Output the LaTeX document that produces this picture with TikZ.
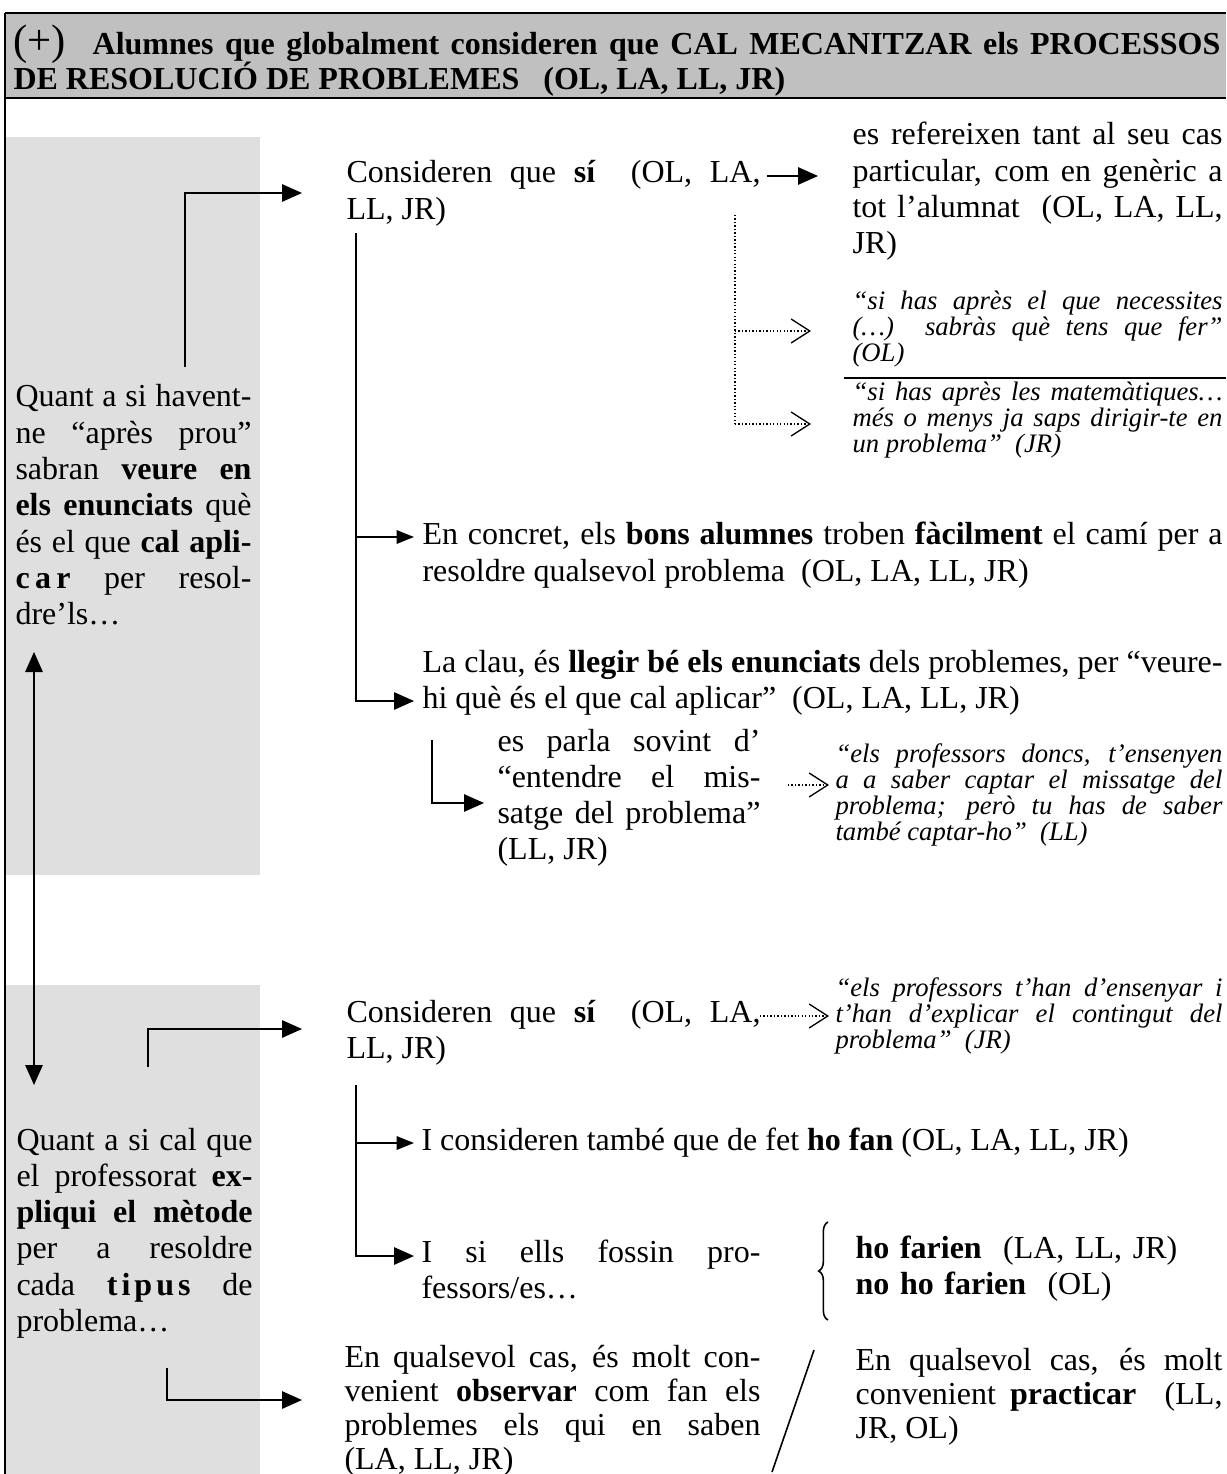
\documentclass[tikz,border=0pt]{standalone}
\usepackage{fontspec}
\setmainfont{Liberation Serif}
\usetikzlibrary{arrows.meta,decorations.pathreplacing}
\definecolor{headgray}{HTML}{C0C0C0}
\definecolor{panelgray}{HTML}{DFDFDF}
\begin{document}
\begin{tikzpicture}[x=0.375pt,y=-0.375pt,
  body/.style={font=\fontsize{12}{13.6}\selectfont, align=justify, inner sep=0pt, anchor=base west},
  bodyt/.style={font=\fontsize{12}{12.75}\selectfont, align=justify, inner sep=0pt, anchor=base west},
  quote/.style={font=\fontsize{10}{9.75}\selectfont\itshape, align=justify, inner sep=0pt, anchor=base west},
  conn/.style={line width=0.75pt},
  arr/.style={conn,-{Triangle[length=7.5pt,width=6.5pt]}},
  barr/.style={conn,-{Triangle[length=6.5pt,width=5pt]}},
  dotl/.style={line width=0.5pt, dash pattern=on 0.5pt off 0.8pt,
    -{Straight Barb[length=7pt,width=9pt,line width=0.5pt]}},
  dotv/.style={line width=0.5pt, dash pattern=on 0.5pt off 0.8pt},
]
\useasboundingbox (0,0) rectangle (1226,1474);

% header band and frame
\fill[headgray] (5,13) rectangle (1226,98);
\fill[panelgray] (5,137) rectangle (260,875);
\fill[panelgray] (5,985) rectangle (260,1474);
\draw[line width=0.75pt] (5,13) -- (1226,13);
\draw[line width=0.75pt] (5,98) -- (1226,98);
\draw[line width=0.9pt] (5,13) -- (5,1474);

\node[anchor=base west, inner sep=0pt] (hd1) at (13,55)
  {\makebox[452.6pt][s]{\fontsize{16}{16}\selectfont(+)\hspace{10pt}\fontsize{12}{14}\selectfont\bfseries Alumnes que globalment consideren que CAL MECANITZAR els PROCESSOS}};
\node[anchor=base west, inner sep=0pt, font=\fontsize{12}{14}\selectfont\bfseries] (hd2) at (13,90)
  {DE RESOLUCIÓ DE PROBLEMES\hspace{9pt}(OL, LA, LL, JR)};

% ---------- upper block ----------
\node[body, text width=88.5pt] (lp1) at (15,407)
  {Quant a si havent-\linebreak ne “après prou”\linebreak sabran \textbf{veure en}\linebreak \textbf{els enunciats} què\linebreak és el que \textbf{cal apli-}\linebreak \textbf{c\hspace{2pt}a\hspace{2pt}r} per resol-\linebreak dre’ls…};

\node[body, text width=155.25pt] (a1) at (346,183)
  {Consideren que \textbf{sí}\ \ (OL, LA,\linebreak LL, JR)};
\node[body, text width=138.75pt] (b1) at (852,145)
  {es refereixen tant al seu cas\linebreak particular, com en genèric a\linebreak tot l’alumnat\ \ (OL, LA, LL,\linebreak JR)};
\node[quote, text width=138.75pt] (q1) at (852,310)
  {“si has après el que necessites\linebreak (…)\ \ sabràs què tens que fer”\linebreak (OL)};
\node[quote, text width=138.75pt] (q2) at (852,401)
  {“si has après les matemàtiques…\linebreak més o menys ja saps dirigir-te en\linebreak un problema”\ \ (JR)};
\node[body, text width=300pt] (c1) at (422,545)
  {En concret, els \textbf{bons alumnes} troben \textbf{fàcilment} el camí per a\linebreak resoldre qualsevol problema\ \ (OL, LA, LL, JR)};
\node[body, text width=300pt] (c2) at (422,672)
  {La clau, és \textbf{llegir bé els enunciats} dels problemes, per “veure-\linebreak hi què és el que cal aplicar”\ \ (OL, LA, LL, JR)};
\node[body, text width=98.6pt] (d1) at (497,751)
  {es parla sovint d’\linebreak “entendre el mis-\linebreak satge del problema”\linebreak (LL, JR)};
\node[quote, text width=145.1pt] (q3) at (835,762)
  {“els professors doncs, t’ensenyen\linebreak a a saber captar el missatge del\linebreak problema; però tu has de saber\linebreak també captar-ho”\ \ (LL)};

% connectors of the upper block
\coordinate (u1) at (185,367);
\coordinate (u1t) at (302,193);
\draw[arr] (u1) |- (u1t);
\coordinate (ab1) at (767,176);
\coordinate (ab2) at (818,176);
\draw[arr] (ab1) -- (ab2);
\coordinate (dv) at (735,215);
\coordinate (dq1) at (811,331);
\coordinate (dq2) at (811,424);
\draw[dotv] (dv) -- (dv |- dq2);
\draw[dotl] (dv |- dq1) -- (dq1);
\draw[dotl] (dv |- dq2) -- (dq2);
\draw[line width=0.6pt] (844,378) -- (1226,378);
\coordinate (v1) at (356,233);
\coordinate (c1t) at (414,537);
\coordinate (c2t) at (414,701);
\draw[arr] (v1) |- (c2t);
\draw[barr] (v1 |- c1t) -- (c1t);
\coordinate (v2) at (432,740);
\coordinate (d1t) at (484,803);
\draw[arr] (v2) |- (d1t);
\coordinate (dq3s) at (788,785);
\coordinate (dq3t) at (829,785);
\draw[dotl] (dq3s) -- (dq3t);

% link between the two left panels
\coordinate (da1) at (34,652);
\coordinate (da2) at (34,1085);
\draw[conn,{Triangle[length=7.5pt,width=6.5pt]}-{Triangle[length=7.5pt,width=6.5pt]}] (da1) -- (da2);

% ---------- lower block ----------
\node[body, text width=88.5pt] (lp2) at (16,1150)
  {Quant a si cal que\linebreak el professorat \textbf{ex-}\linebreak \textbf{pliqui el mètode}\linebreak per a resoldre\linebreak cada \textbf{t\hspace{1.5pt}i\hspace{1.5pt}p\hspace{1.5pt}u\hspace{1.5pt}s} de\linebreak problema…};

\node[body, text width=155.25pt] (e1) at (346,1022)
  {Consideren que \textbf{sí}\ \ (OL, LA,\linebreak LL, JR)};
\node[quote, text width=145.1pt] (q4) at (835,996)
  {“els professors t’han d’ensenyar i\linebreak t’han d’explicar el contingut del\linebreak problema”\ \ (JR)};
\node[body] (f1) at (421,1150)
  {I consideren també que de fet \textbf{ho fan} (OL, LA, LL, JR)};
\node[body, text width=127.1pt] (f2) at (421,1262)
  {I si ells fossin pro-\linebreak fessors/es…};
\node[body, text width=140pt, align=left] (g1) at (855,1258)
  {\textbf{ho farien}\ \ (LA, LL, JR)\\\textbf{no ho farien}\ \ (OL)};
\node[bodyt, text width=156pt] (h1) at (344,1367)
  {En qualsevol cas, és molt con-\linebreak venient \textbf{observar} com fan els\linebreak problemes els qui en saben\linebreak (LA, LL, JR)};
\node[bodyt, text width=137.6pt] (h2) at (855,1370)
  {En qualsevol cas, és molt\linebreak convenient \textbf{practicar}\ \ (LL,\linebreak JR, OL)};

% connectors of the lower block
\coordinate (u2) at (148,1067);
\coordinate (u2t) at (302,1029);
\draw[arr] (u2) |- (u2t);
\coordinate (dq4s) at (760,1016);
\coordinate (dq4t) at (829,1016);
\draw[dotl] (dq4s) -- (dq4t);
\coordinate (v3) at (356,1085);
\coordinate (f1t) at (414,1143);
\coordinate (f2t) at (414,1256);
\draw[arr] (v3) |- (f2t);
\draw[barr] (v3 |- f1t) -- (f1t);
\coordinate (br1) at (828,1320);
\coordinate (br2) at (828,1222);
\draw[line width=0.6pt, decorate, decoration={brace, amplitude=3.5pt}] (br1) -- (br2);
\coordinate (u3) at (167,1368);
\coordinate (u3t) at (302,1400);
\draw[arr] (u3) |- (u3t);
\coordinate (dg1) at (772,1472);
\coordinate (dg2) at (814,1350);
\draw[line width=0.6pt] (dg1) -- (dg2);
\end{tikzpicture}
\end{document}
